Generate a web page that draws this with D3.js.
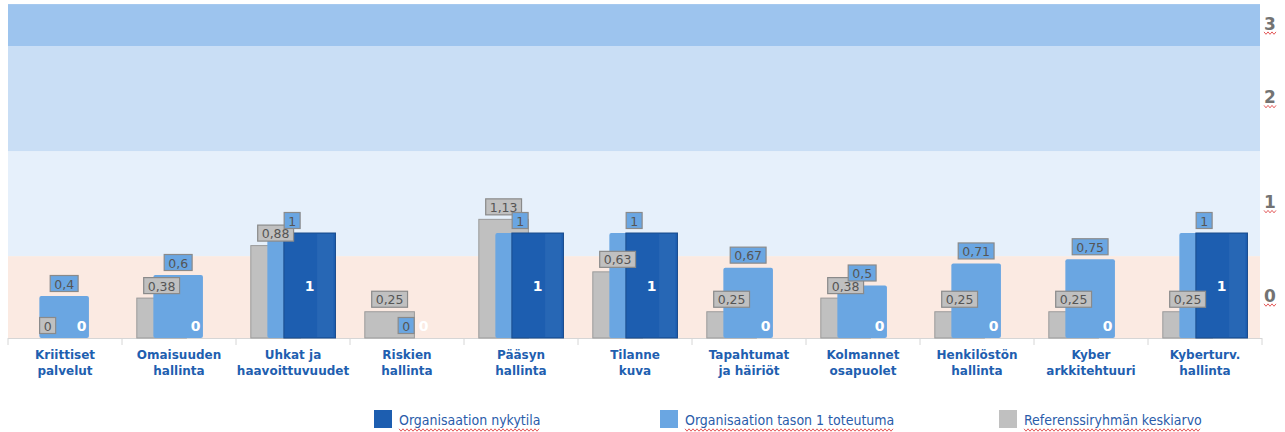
<!DOCTYPE html>
<html>
<head>
<meta charset="utf-8">
<script src="https://cdn.jsdelivr.net/npm/d3@7"></script>
<style>
  body { margin: 0; background: #fff; }
  svg { display: block; font-family: "DejaVu Sans", Verdana, sans-serif; }
</style>
</head>
<body>
<svg id="chart" width="1285" height="432"></svg>
<script>
let categories = [
  ['Kriittiset', 'palvelut'],
  ['Omaisuuden', 'hallinta'],
  ['Uhkat ja', 'haavoittuvuudet'],
  ['Riskien', 'hallinta'],
  ['Pääsyn', 'hallinta'],
  ['Tilanne', 'kuva'],
  ['Tapahtumat', 'ja häiriöt'],
  ['Kolmannet', 'osapuolet'],
  ['Henkilöstön', 'hallinta'],
  ['Kyber', 'arkkitehtuuri'],
  ['Kyberturv.', 'hallinta']
];
let nykytila = [0, 0, 1, 0, 1, 1, 0, 0, 0, 0, 1];
let taso1 = [0.4, 0.6, 1, 0, 1, 1, 0.67, 0.5, 0.71, 0.75, 1];
let referenssi = [0, 0.38, 0.88, 0.25, 1.13, 0.63, 0.25, 0.38, 0.25, 0.25, 0.25];

let bandEdges = [0, 0.78, 1.78, 2.78, 3.18];
let bandColors = ['#fbeae2', '#e6f0fb', '#c9def5', '#9dc4ee'];
let bandLabels = ['0', '1', '2', '3'];

let legendNames = ['Organisaation nykytila', 'Organisaation tason 1 toteutuma', 'Referenssiryhmän keskiarvo'];
let legendColors = ['#1d5eb0', '#6aa6e2', '#c0c0c0'];

let svg = d3.select('#chart');
let x0 = 8, x1 = 1262, base = 338;

let x = d3.scaleBand()
  .domain(d3.range(categories.length))
  .range([x0, x1]);

let y = d3.scaleLinear()
  .domain([0, 3.18])
  .range([base, base - 3.18 * 105]);

let bw = x.bandwidth();
// overlapping bars: offset of each series inside the group
let sub = d3.scaleLinear().domain([0, 2]).range([bw * 0.13, bw * 0.42]);
let barW = bw * 0.435;

function squiggle(xa, xb, yy) {
  let pts = [];
  let k = 0;
  for (let xx = xa; xx <= xb; xx += 2) {
    pts.push([xx, yy + (k % 2 ? 1.2 : -1.2)]);
    k++;
  }
  return d3.line()(pts);
}

// background bands
svg.selectAll('rect.band')
  .data(bandColors)
  .enter()
  .append('rect')
  .attr('class', 'band')
  .attr('x', x0)
  .attr('width', x1 - x0 - 2)
  .attr('y', (d, i) => y(bandEdges[i + 1]))
  .attr('height', (d, i) => y(bandEdges[i]) - y(bandEdges[i + 1]))
  .attr('fill', d => d);

// band labels on the right
let bl = svg.selectAll('g.blabel')
  .data(bandLabels)
  .enter()
  .append('g')
  .attr('class', 'blabel')
  .attr('transform', (d, i) => `translate(1270,${y((bandEdges[i] + bandEdges[i + 1]) / 2) - 1.5})`);

bl.append('text')
  .text(d => d)
  .attr('text-anchor', 'middle')
  .attr('dy', '0.36em')
  .style('font-size', '17px')
  .style('font-weight', 'bold')
  .attr('fill', '#737373');

bl.append('path')
  .attr('d', squiggle(-6, 6, 9.5))
  .attr('fill', 'none')
  .attr('stroke', '#e04848')
  .attr('stroke-width', 0.9);

// baseline and group separators
svg.append('line')
  .attr('x1', x0).attr('x2', x1)
  .attr('y1', base + 0.5).attr('y2', base + 0.5)
  .attr('stroke', '#d6d6d6');

svg.selectAll('line.sep')
  .data(d3.range(categories.length + 1))
  .enter()
  .append('line')
  .attr('class', 'sep')
  .attr('x1', i => x0 + i * bw).attr('x2', i => x0 + i * bw)
  .attr('y1', base).attr('y2', base + 7)
  .attr('stroke', '#d6d6d6');

let groups = svg.selectAll('g.grp')
  .data(categories)
  .enter()
  .append('g')
  .attr('class', 'grp')
  .attr('transform', (d, i) => `translate(${x(i)},0)`);

// reference bars (gray)
groups.append('rect')
  .attr('x', sub(0))
  .attr('width', barW)
  .attr('y', (d, i) => y(referenssi[i]))
  .attr('height', (d, i) => base - y(referenssi[i]))
  .attr('fill', '#c0c0c0')
  .attr('stroke', (d, i) => referenssi[i] > 0 ? '#9a9a9a' : 'none');

// level 1 bars (light blue)
groups.append('rect')
  .attr('x', sub(1))
  .attr('width', barW)
  .attr('y', (d, i) => y(taso1[i]))
  .attr('height', (d, i) => base - y(taso1[i]))
  .attr('rx', 2)
  .attr('fill', '#6aa6e2');

// current bars (dark blue)
let cur = groups.filter((d, i) => nykytila[i] > 0);
cur.append('rect')
  .attr('x', sub(2))
  .attr('width', barW + 2)
  .attr('y', (d, i) => y(nykytila[categories.indexOf(d)]))
  .attr('height', d => base - y(nykytila[categories.indexOf(d)]))
  .attr('fill', '#1d5eb0')
  .attr('stroke', '#1a4c8c');
cur.append('rect')
  .attr('x', sub(2) + barW * 0.67)
  .attr('width', barW * 0.33)
  .attr('y', d => y(nykytila[categories.indexOf(d)]) + 1)
  .attr('height', d => base - y(nykytila[categories.indexOf(d)]) - 2)
  .attr('fill', '#2767b5');

function fmt(v) {
  return String(v).replace('.', ',');
}

function boxLabel(sel, values, idx, fill) {
  let g = sel.append('g')
    .attr('transform', (d, i) => `translate(${sub(idx) + barW / 2},${y(values[i]) - 4})`);
  let t = g.append('text')
    .text((d, i) => fmt(values[i]))
    .attr('text-anchor', 'middle')
    .attr('y', -3.5)
    .style('font-size', '12.5px')
    .attr('fill', '#555');
  t.each(function () {
    let b = this.getBBox();
    d3.select(this.parentNode).insert('rect', 'text')
      .attr('x', b.x - 4)
      .attr('y', -16.5)
      .attr('width', b.width + 8)
      .attr('height', 16)
      .attr('fill', fill)
      .attr('stroke', '#8a8a8a')
      .attr('stroke-width', 1.2);
  });
}

boxLabel(groups, referenssi, 0, '#c0c0c0');
boxLabel(groups, taso1, 1, '#6aa6e2');

// current values inside the dark bar
groups.append('text')
  .text((d, i) => nykytila[i])
  .attr('x', sub(2) + barW / 2 + 1)
  .attr('y', (d, i) => Math.min((y(nykytila[i]) + base) / 2, base - 12))
  .attr('dy', '0.36em')
  .attr('text-anchor', 'middle')
  .style('font-size', '14px')
  .style('font-weight', 'bold')
  .attr('fill', '#fff');

// category labels
let cl = groups.append('text')
  .attr('text-anchor', 'middle')
  .style('font-size', '12px')
  .style('font-weight', 'bold')
  .attr('fill', '#1f5fb0');
cl.selectAll('tspan')
  .data(d => d)
  .enter()
  .append('tspan')
  .attr('x', bw / 2)
  .attr('y', (d, i) => 359 + i * 16)
  .text(d => d);

// legend
let legX = [374, 660, 999];
let lg = svg.selectAll('g.leg')
  .data(legendNames)
  .enter()
  .append('g')
  .attr('class', 'leg')
  .attr('transform', (d, i) => `translate(${legX[i]},410)`);

lg.append('rect')
  .attr('width', 18)
  .attr('height', 18)
  .attr('fill', (d, i) => legendColors[i]);

lg.append('text')
  .text(d => d)
  .attr('x', 25)
  .attr('y', 15)
  .style('font-size', '14px')
  .style('font-family', '"DejaVu Sans Condensed", "DejaVu Sans", sans-serif')
  .attr('fill', '#2a5caa')
  .each(function () {
    let w = this.getComputedTextLength();
    d3.select(this.parentNode).append('path')
      .attr('d', squiggle(25, 25 + w, 20))
      .attr('fill', 'none')
      .attr('stroke', '#e04848')
      .attr('stroke-width', 0.9);
  });
</script>
</body>
</html>
